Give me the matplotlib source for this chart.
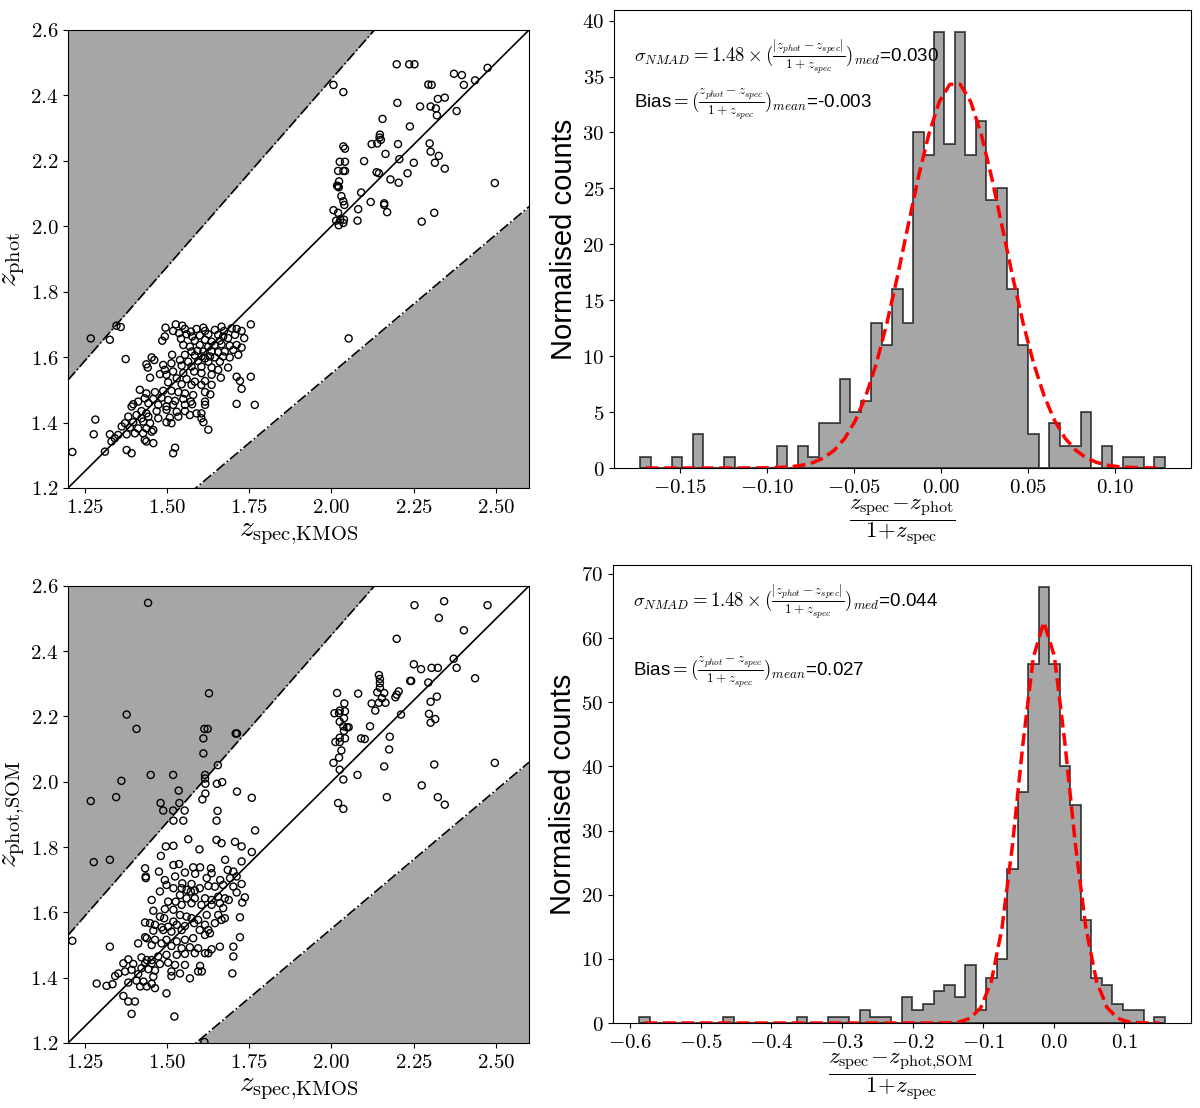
import numpy as np
import matplotlib.pyplot as plt
from matplotlib.ticker import FuncFormatter

plt.rcParams['mathtext.fontset'] = 'cm'
plt.rcParams['font.family'] = ['Liberation Sans', 'DejaVu Sans']

#%% data
# top-left: z_spec (KMOS) vs z_phot
phot_pts = np.array([
    (1.347, 1.696), (1.360, 1.692), (1.327, 1.653), (1.496, 1.690), (1.527, 1.700), (1.547, 1.696),
    (1.555, 1.686), (1.573, 1.678), (1.590, 1.686), (1.611, 1.690), (1.616, 1.680), (1.646, 1.683),
    (1.666, 1.693), (1.674, 1.680), (1.697, 1.688), (1.712, 1.686), (1.727, 1.680), (1.755, 1.700),
    (1.519, 1.680), (1.537, 1.673), (1.560, 1.670), (1.577, 1.663), (1.600, 1.666), (1.626, 1.670),
    (1.656, 1.668), (1.671, 1.663), (1.494, 1.663), (1.486, 1.650), (1.543, 1.656), (1.585, 1.650),
    (1.616, 1.653), (1.636, 1.647), (1.661, 1.650), (1.686, 1.658), (1.735, 1.658), (1.707, 1.668),
    (1.550, 1.637), (1.570, 1.632), (1.600, 1.637), (1.626, 1.632), (1.646, 1.637), (1.666, 1.639),
    (1.691, 1.635), (1.712, 1.637), (1.727, 1.629), (1.575, 1.617), (1.593, 1.619), (1.611, 1.617),
    (1.636, 1.617), (1.656, 1.615), (1.676, 1.617), (1.702, 1.622), (1.516, 1.607), (1.555, 1.607),
    (1.585, 1.605), (1.605, 1.602), (1.616, 1.596), (1.631, 1.602), (1.646, 1.599), (1.671, 1.602),
    (1.691, 1.599), (1.717, 1.607), (1.375, 1.594), (1.454, 1.599), (1.462, 1.591), (1.540, 1.591),
    (1.565, 1.586), (1.595, 1.588), (1.626, 1.586), (1.661, 1.586), (1.686, 1.568), (1.438, 1.578),
    (1.442, 1.568), (1.489, 1.576), (1.514, 1.581), (1.545, 1.574), (1.575, 1.571), (1.605, 1.571),
    (1.636, 1.568), (1.656, 1.561), (1.494, 1.561), (1.519, 1.556), (1.550, 1.551), (1.583, 1.556),
    (1.605, 1.551), (1.636, 1.546), (1.664, 1.537), (1.712, 1.540), (1.755, 1.540), (1.479, 1.548),
    (1.499, 1.546), (1.449, 1.537), (1.530, 1.535), (1.560, 1.533), (1.585, 1.525), (1.616, 1.527),
    (1.722, 1.527), (1.504, 1.523), (1.545, 1.517), (1.575, 1.515), (1.605, 1.515), (1.636, 1.515),
    (1.418, 1.500), (1.438, 1.489), (1.464, 1.493), (1.489, 1.497), (1.514, 1.497), (1.535, 1.493),
    (1.555, 1.489), (1.580, 1.484), (1.616, 1.493), (1.632, 1.486), (1.727, 1.503), (1.433, 1.474),
    (1.459, 1.472), (1.484, 1.476), (1.504, 1.469), (1.525, 1.466), (1.550, 1.472), (1.573, 1.464),
    (1.398, 1.456), (1.413, 1.464), (1.444, 1.459), (1.474, 1.454), (1.499, 1.449), (1.519, 1.454),
    (1.555, 1.454), (1.577, 1.456), (1.616, 1.464), (1.616, 1.454), (1.712, 1.457), (1.767, 1.454),
    (1.393, 1.449), (1.423, 1.435), (1.438, 1.428), (1.469, 1.435), (1.499, 1.439), (1.530, 1.433),
    (1.555, 1.435), (1.590, 1.428), (1.605, 1.428), (1.383, 1.418), (1.408, 1.423), (1.423, 1.413),
    (1.444, 1.418), (1.474, 1.413), (1.509, 1.415), (1.535, 1.418), (1.570, 1.423), (1.373, 1.398),
    (1.398, 1.401), (1.428, 1.403), (1.449, 1.398), (1.499, 1.401), (1.514, 1.398), (1.611, 1.401),
    (1.605, 1.413), (1.363, 1.388), (1.388, 1.385), (1.413, 1.382), (1.438, 1.382), (1.459, 1.377),
    (1.626, 1.378), (1.327, 1.364), (1.352, 1.362), (1.378, 1.364), (1.403, 1.367), (1.428, 1.367),
    (1.454, 1.372), (1.342, 1.352), (1.332, 1.342), (1.433, 1.347), (1.438, 1.342), (1.459, 1.337),
    (1.378, 1.316), (1.393, 1.306), (1.525, 1.323), (1.519, 1.306), (1.312, 1.311),
    (1.269, 1.657), (1.213, 1.310), (1.283, 1.409), (1.278, 1.364),
    (2.198, 2.495), (2.236, 2.495), (2.252, 2.495), (2.372, 2.466), (2.396, 2.462), (2.474, 2.484),
    (2.436, 2.446), (2.402, 2.432), (2.006, 2.432), (2.036, 2.410), (2.294, 2.433), (2.304, 2.432),
    (2.200, 2.377), (2.269, 2.366), (2.301, 2.366), (2.323, 2.389), (2.344, 2.393), (2.380, 2.352),
    (2.317, 2.360), (2.320, 2.339), (2.155, 2.328), (2.238, 2.305), (2.147, 2.280), (2.146, 2.271),
    (2.150, 2.264), (2.139, 2.253), (2.122, 2.251), (2.202, 2.251), (2.298, 2.253), (2.036, 2.244),
    (2.041, 2.237), (2.164, 2.221), (2.326, 2.215), (2.301, 2.228), (2.206, 2.205), (2.137, 2.165),
    (2.025, 2.197), (2.041, 2.197), (2.099, 2.199), (2.250, 2.194), (2.344, 2.176), (2.314, 2.194),
    (2.231, 2.162), (2.020, 2.169), (2.036, 2.169), (2.041, 2.169), (2.179, 2.143), (2.144, 2.162),
    (2.496, 2.132), (2.204, 2.133), (2.023, 2.137), (2.017, 2.124), (2.020, 2.122), (2.022, 2.119),
    (2.030, 2.092), (2.090, 2.103), (2.119, 2.074), (2.036, 2.076), (2.039, 2.065), (2.160, 2.070),
    (2.160, 2.065), (2.081, 2.052), (2.169, 2.043), (2.006, 2.049), (2.020, 2.041), (2.312, 2.041),
    (2.027, 2.020), (2.038, 2.020), (2.014, 2.017), (2.036, 2.010), (2.079, 2.017), (2.274, 2.014),
    (2.022, 2.003), (2.052, 1.657),
])

# bottom-left: z_spec (KMOS) vs z_phot,SOM
som_pts = np.array([
    (1.520, 1.881), (1.550, 1.881), (1.651, 1.881), (1.768, 1.851), (1.565, 1.824), (1.651, 1.822),
    (1.666, 1.812), (1.707, 1.816), (1.727, 1.802), (1.758, 1.785), (1.497, 1.802), (1.520, 1.804),
    (1.599, 1.793), (1.482, 1.773), (1.327, 1.761), (1.677, 1.761), (1.727, 1.756), (1.520, 1.745),
    (1.537, 1.748), (1.580, 1.738), (1.601, 1.738), (1.434, 1.735), (1.476, 1.725), (1.555, 1.722),
    (1.586, 1.718), (1.634, 1.735), (1.636, 1.720), (1.685, 1.730), (1.702, 1.725), (1.436, 1.710),
    (1.436, 1.705), (1.494, 1.699), (1.525, 1.710), (1.547, 1.689), (1.575, 1.687), (1.621, 1.705),
    (1.662, 1.699), (1.692, 1.705), (1.712, 1.710), (1.727, 1.687), (1.499, 1.684), (1.520, 1.674),
    (1.545, 1.674), (1.560, 1.669), (1.573, 1.664), (1.585, 1.667), (1.600, 1.674), (1.626, 1.681),
    (1.646, 1.679), (1.671, 1.684), (1.702, 1.679), (1.454, 1.638), (1.479, 1.664), (1.504, 1.633),
    (1.527, 1.633), (1.540, 1.653), (1.560, 1.643), (1.585, 1.643), (1.616, 1.643), (1.636, 1.638),
    (1.656, 1.648), (1.676, 1.643), (1.712, 1.661), (1.737, 1.646), (1.688, 1.638), (1.729, 1.630),
    (1.494, 1.610), (1.520, 1.608), (1.545, 1.623), (1.575, 1.628), (1.605, 1.623), (1.636, 1.623),
    (1.661, 1.628), (1.671, 1.613), (1.459, 1.605), (1.479, 1.587), (1.492, 1.582), (1.520, 1.572),
    (1.540, 1.592), (1.560, 1.587), (1.575, 1.582), (1.595, 1.577), (1.621, 1.592), (1.656, 1.592),
    (1.676, 1.582), (1.722, 1.585), (1.434, 1.569), (1.449, 1.567), (1.464, 1.562), (1.484, 1.554),
    (1.504, 1.556), (1.530, 1.562), (1.555, 1.558), (1.583, 1.567), (1.616, 1.562), (1.646, 1.567),
    (1.666, 1.577), (1.459, 1.544), (1.489, 1.546), (1.514, 1.541), (1.545, 1.546), (1.600, 1.546),
    (1.626, 1.546), (1.434, 1.524), (1.439, 1.521), (1.464, 1.516), (1.499, 1.516), (1.530, 1.511),
    (1.555, 1.516), (1.580, 1.521), (1.616, 1.531), (1.631, 1.536), (1.722, 1.524), (1.413, 1.505),
    (1.454, 1.500), (1.484, 1.505), (1.514, 1.497), (1.545, 1.490), (1.570, 1.493), (1.595, 1.490),
    (1.616, 1.475), (1.626, 1.475), (1.636, 1.487), (1.661, 1.495), (1.702, 1.495), (1.327, 1.495),
    (1.383, 1.456), (1.423, 1.462), (1.439, 1.454), (1.454, 1.454), (1.474, 1.465), (1.499, 1.470),
    (1.530, 1.470), (1.555, 1.473), (1.585, 1.475), (1.368, 1.444), (1.398, 1.442), (1.434, 1.444),
    (1.454, 1.444), (1.479, 1.442), (1.504, 1.446), (1.525, 1.439), (1.555, 1.439), (1.601, 1.436),
    (1.702, 1.465), (1.393, 1.424), (1.423, 1.429), (1.444, 1.426), (1.464, 1.422), (1.514, 1.419),
    (1.595, 1.419), (1.606, 1.419), (1.353, 1.413), (1.373, 1.419), (1.413, 1.411), (1.343, 1.405),
    (1.459, 1.403), (1.514, 1.405), (1.540, 1.413), (1.570, 1.398), (1.699, 1.413), (1.383, 1.385),
    (1.408, 1.391), (1.429, 1.388), (1.454, 1.381), (1.317, 1.375), (1.335, 1.380), (1.419, 1.373),
    (1.439, 1.373), (1.464, 1.368), (1.368, 1.344), (1.383, 1.327), (1.403, 1.327), (1.499, 1.352),
    (1.393, 1.289), (1.523, 1.281),
    (1.443, 2.548), (1.378, 2.206), (1.408, 2.162), (1.628, 2.271), (1.614, 2.162), (1.624, 2.162),
    (1.611, 2.133), (1.611, 2.087), (1.709, 2.148), (1.713, 2.148), (1.269, 1.941), (1.362, 2.003),
    (1.346, 1.953), (1.451, 2.021), (1.519, 2.021), (1.536, 1.973), (1.538, 1.935), (1.481, 1.935),
    (1.489, 1.912), (1.519, 1.912), (1.278, 1.754), (1.213, 1.513), (1.616, 2.021), (1.616, 2.010),
    (1.617, 1.994), (1.617, 1.964), (1.608, 1.946), (1.655, 2.051), (1.652, 1.994), (1.668, 1.999),
    (1.713, 1.970), (1.758, 1.951), (1.554, 1.912), (1.654, 1.911), (1.614, 1.203), (1.287, 1.382),
    (2.252, 2.541), (2.342, 2.553), (2.326, 2.502), (2.474, 2.541), (2.402, 2.464), (2.198, 2.438),
    (2.371, 2.377), (2.380, 2.349), (2.250, 2.360), (2.272, 2.345), (2.304, 2.349), (2.323, 2.349),
    (2.436, 2.317), (2.239, 2.309), (2.242, 2.309), (2.294, 2.304), (2.144, 2.327), (2.147, 2.315),
    (2.147, 2.302), (2.147, 2.288), (2.139, 2.274), (2.160, 2.272), (2.153, 2.256), (2.144, 2.242),
    (2.164, 2.242), (2.194, 2.259), (2.198, 2.267), (2.204, 2.277), (2.301, 2.245), (2.320, 2.261),
    (2.122, 2.240), (2.133, 2.218), (2.017, 2.272), (2.081, 2.270), (2.211, 2.206), (2.039, 2.240),
    (2.025, 2.218), (2.009, 2.210), (2.023, 2.210), (2.041, 2.216), (2.038, 2.195), (2.025, 2.184),
    (2.036, 2.170), (2.038, 2.156), (2.047, 2.167), (2.052, 2.167), (2.025, 2.135), (2.041, 2.133),
    (2.012, 2.122), (2.025, 2.122), (2.090, 2.133), (2.101, 2.131), (2.117, 2.170), (2.296, 2.208),
    (2.301, 2.181), (2.315, 2.192), (2.177, 2.138), (2.175, 2.099), (2.030, 2.096), (2.006, 2.058),
    (2.023, 2.074), (2.025, 2.037), (2.036, 2.007), (2.079, 2.021), (2.160, 2.047), (2.312, 2.053),
    (2.496, 2.058), (2.274, 1.989), (2.168, 1.953), (2.323, 1.953), (2.344, 1.930), (2.020, 1.935),
    (2.036, 1.917),
])

# histograms: 50 bins each, heights
counts_phot = [1, 0, 0, 1, 0, 3, 0, 0, 1, 0, 0, 0, 0, 2, 0, 2, 1, 4, 4, 8, 5, 6, 13, 11, 16,
               13, 30, 28, 39, 29, 39, 28, 31, 24, 25, 16, 11, 3, 0, 4, 2, 2, 5, 0, 2, 0, 1, 1, 0, 1]
range_phot = (-0.1731, 0.1287)
counts_som = [1, 0, 0, 0, 0, 0, 0, 0, 1, 0, 0, 0, 0, 0, 0, 1, 0, 0, 1, 1, 0, 2, 1, 1, 0,
              4, 2, 3, 5, 6, 4, 9, 2, 7, 10, 24, 36, 56, 68, 56, 40, 34, 16, 7, 6, 3, 2, 2, 0, 1]
range_som = (-0.587, 0.157)

# gaussian fits (amplitude, mean, sigma)
fit_phot = (34.5, 0.008, 0.028)
fit_som = (62.5, -0.014, 0.035)

nmad = ['0.030', '0.044']
bias = ['-0.003', '0.027']

outlier_frac = 0.15
zlim = (1.2, 2.6)
xticks_sc = [1.25, 1.50, 1.75, 2.00, 2.25, 2.50]
yticks_sc = [1.2, 1.4, 1.6, 1.8, 2.0, 2.2, 2.4, 2.6]

#%%
shade = '#a6a6a6'
fig = plt.figure(figsize=(12, 11.08), dpi=100)

ax_tl = fig.add_axes([0.0567, 0.5596, 0.3842, 0.4134])
ax_tr = fig.add_axes([0.5117, 0.5776, 0.4808, 0.4134])
ax_bl = fig.add_axes([0.0567, 0.0587, 0.3842, 0.4125])
ax_br = fig.add_axes([0.5108, 0.0767, 0.4817, 0.4134])


def scatter_panel(ax, pts, ylab):
    xx = np.linspace(zlim[0], zlim[1], 200)
    up = xx + outlier_frac * (1 + xx)
    lo = xx - outlier_frac * (1 + xx)
    ax.fill_between(xx, up, zlim[1], color=shade, lw=0)
    ax.fill_between(xx, zlim[0], lo, color=shade, lw=0)
    ax.plot(xx, up, 'k-.', lw=1.2)
    ax.plot(xx, lo, 'k-.', lw=1.2)
    ax.plot(xx, xx, 'k-', lw=1.2)
    ax.scatter(pts[:, 0], pts[:, 1], s=26, facecolors='none', edgecolors='k', linewidths=1.0, zorder=3)
    ax.set_xlim(zlim)
    ax.set_ylim(zlim)
    ax.set_xticks(xticks_sc)
    ax.set_yticks(yticks_sc)
    ax.xaxis.set_major_formatter(FuncFormatter(lambda v, p: '$%.2f$' % v))
    ax.yaxis.set_major_formatter(FuncFormatter(lambda v, p: '$%.1f$' % v))
    ax.tick_params(labelsize=15)
    ax.set_xlabel(r'$z_{\mathrm{spec{,}KMOS}}$', fontsize=21, labelpad=2)
    ax.set_ylabel(ylab, fontsize=21, labelpad=2)


def hist_panel(ax, counts, rng, fit, xlab, fmt, sig, bi, ysig, ybias):
    edges = np.linspace(rng[0], rng[1], len(counts) + 1)
    centers = 0.5 * (edges[1:] + edges[:-1])
    ax.hist(centers, bins=edges, weights=counts, histtype='stepfilled',
            facecolor='gray', edgecolor='black', alpha=0.7, lw=1.3)
    a, mu, sd = fit
    ax.plot(centers, a * np.exp(-0.5 * ((centers - mu) / sd) ** 2), 'r--', lw=2.5)
    ax.xaxis.set_major_formatter(FuncFormatter(lambda v, p: fmt % v))
    ax.yaxis.set_major_formatter(FuncFormatter(lambda v, p: '$%d$' % v))
    ax.tick_params(labelsize=15)
    ax.set_xlabel(xlab, fontsize=16.5, labelpad=0)
    ax.set_ylabel('Normalised counts', fontsize=21, labelpad=3)
    ax.text(0.035, ysig, r'$\sigma_{NMAD} = 1.48 \times (\frac{|z_{phot}-z_{spec}|}{1+z_{spec}})_{med}$=' + sig,
            transform=ax.transAxes, fontsize=13.5, va='center')
    ax.text(0.035, ybias, r'Bias$=(\frac{z_{phot}-z_{spec}}{1+z_{spec}})_{mean}$=' + bi,
            transform=ax.transAxes, fontsize=13.5, va='center')


scatter_panel(ax_tl, phot_pts, r'$z_{\mathrm{phot}}$')
scatter_panel(ax_bl, som_pts, r'$z_{\mathrm{phot{,}SOM}}$')

hist_panel(ax_tr, counts_phot, range_phot, fit_phot,
           r'$\dfrac{z_{\mathrm{spec}}\!-\!z_{\mathrm{phot}}}{1\!+\!z_{\mathrm{spec}}}$',
           '$%.2f$', nmad[0], bias[0], 0.897, 0.793)
hist_panel(ax_br, counts_som, range_som, fit_som,
           r'$\dfrac{z_{\mathrm{spec}}\!-\!z_{\mathrm{phot{,}SOM}}}{1\!+\!z_{\mathrm{spec}}}$',
           '$%.1f$', nmad[1], bias[1], 0.919, 0.764)

fig.savefig('out.png', dpi=100)
